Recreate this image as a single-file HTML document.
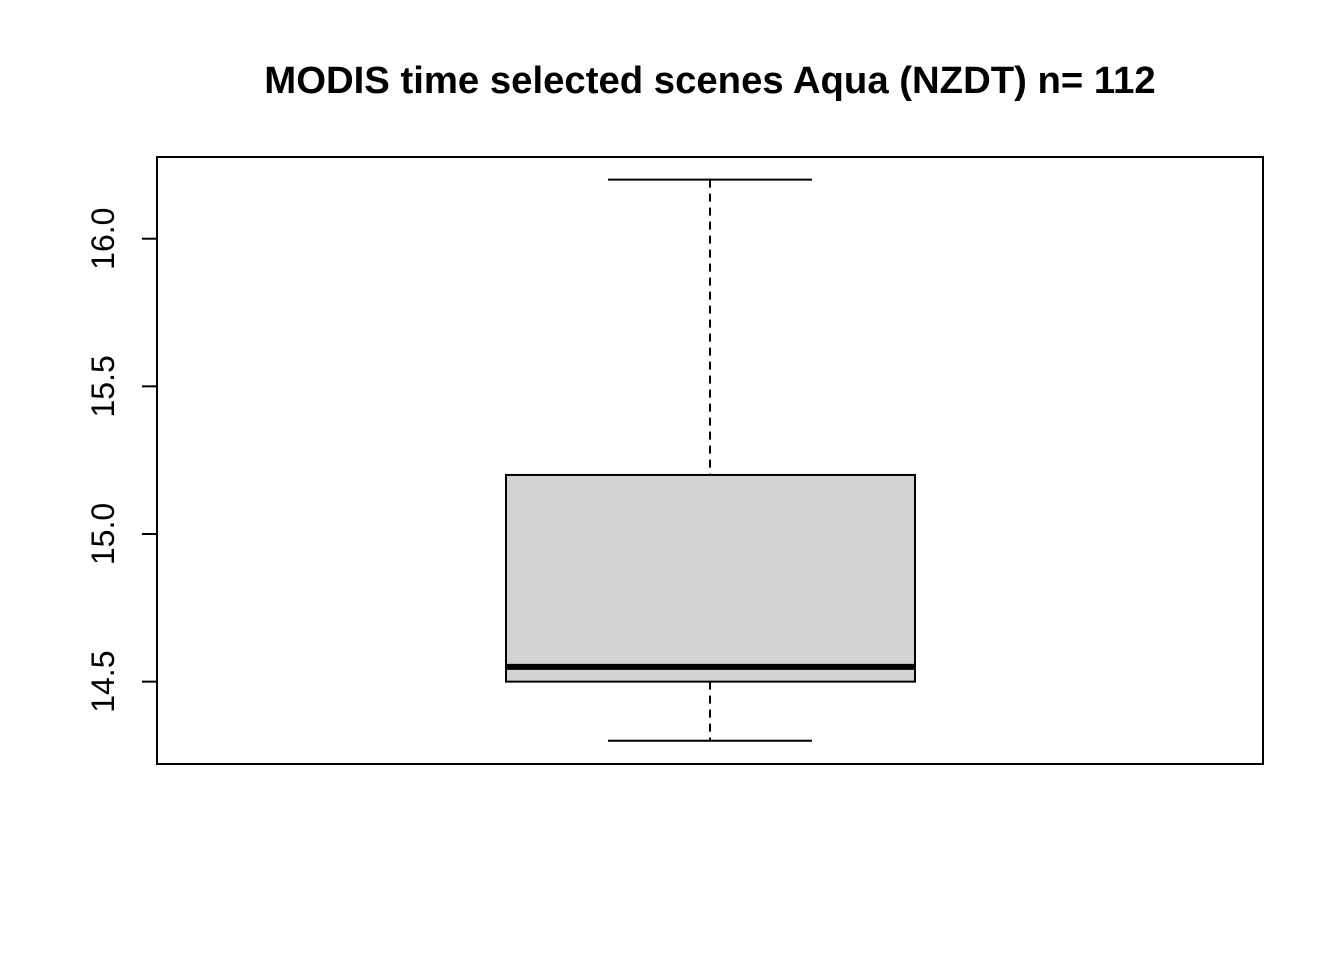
<!DOCTYPE html>
<html><head><meta charset="utf-8"><style>
html,body{margin:0;padding:0;background:#fff;width:1344px;height:960px;overflow:hidden}
text{font-family:"Liberation Sans",Arial,sans-serif}
</style></head><body>
<svg id="chart" width="1344" height="960" viewBox="0 0 1344 960" xmlns="http://www.w3.org/2000/svg">
<rect width="1344" height="960" fill="#fff"/>
<text x="710" y="93" text-anchor="middle" font-size="38.3" font-weight="bold">MODIS time selected scenes Aqua (NZDT) n= 112</text>
<rect x="157" y="157" width="1106" height="607" fill="none" stroke="#000" stroke-width="2"/>
<g id="yaxis"></g>
<g id="box"></g>
</svg>
<script>
const yTicks = [14.5, 15.0, 15.5, 16.0];
const yTickLabels = ["14.5", "15.0", "15.5", "16.0"];
const whiskerLow = [14.3];
const q1 = [14.5];
const median = [14.55];
const q3 = [15.2];
const whiskerHigh = [16.2];

const NS = "http://www.w3.org/2000/svg";
function y(v){ return 534 + (15.0 - v) * 295.3; }
function mk(tag, attrs, parent){
  const e = document.createElementNS(NS, tag);
  for (const k in attrs) e.setAttribute(k, attrs[k]);
  parent.appendChild(e); return e;
}
const ya = document.getElementById('yaxis');
const ax = mk('line', {x1:157, x2:157, y1:y(yTicks[0]), y2:y(yTicks[yTicks.length-1]), stroke:'#000','stroke-width':2}, ya);


yTicks.forEach((t, i) => {
  const l = mk('line', {x1:142, x2:157, y1:y(t), y2:y(t), stroke:'#000','stroke-width':2}, ya);
  
  
  const tx = mk('text', {x:0, y:0, 'font-size':32, 'text-anchor':'middle', transform:`translate(114,${y(t)}) rotate(-90)`}, ya);
  tx.textContent = yTickLabels[i];
  
  
});
const bx = document.getElementById('box');
const cx = 710, bl = 506, br = 915, cl = 608, cr = 812;
const w1 = mk('line', {x1:cx, x2:cx, y1:y(whiskerHigh[0]), y2:y(q3[0]), stroke:'#000','stroke-width':2,'stroke-dasharray':'8,6'}, bx);


const w2 = mk('line', {x1:cx, x2:cx, y1:y(q1[0]), y2:y(whiskerLow[0]), stroke:'#000','stroke-width':2,'stroke-dasharray':'8,6'}, bx);


const c1 = mk('line', {x1:cl, x2:cr, y1:y(whiskerHigh[0]), y2:y(whiskerHigh[0]), stroke:'#000','stroke-width':2}, bx);


const c2 = mk('line', {x1:cl, x2:cr, y1:y(whiskerLow[0]), y2:y(whiskerLow[0]), stroke:'#000','stroke-width':2}, bx);


const r = mk('rect', {x:bl, y:y(q3[0]), width:br-bl, height:y(q1[0])-y(q3[0]), fill:'#d3d3d3', stroke:'#000','stroke-width':2}, bx);


const m = mk('line', {x1:bl, x2:br, y1:y(median[0]), y2:y(median[0]), stroke:'#000','stroke-width':6}, bx);


</script>
</body></html>
